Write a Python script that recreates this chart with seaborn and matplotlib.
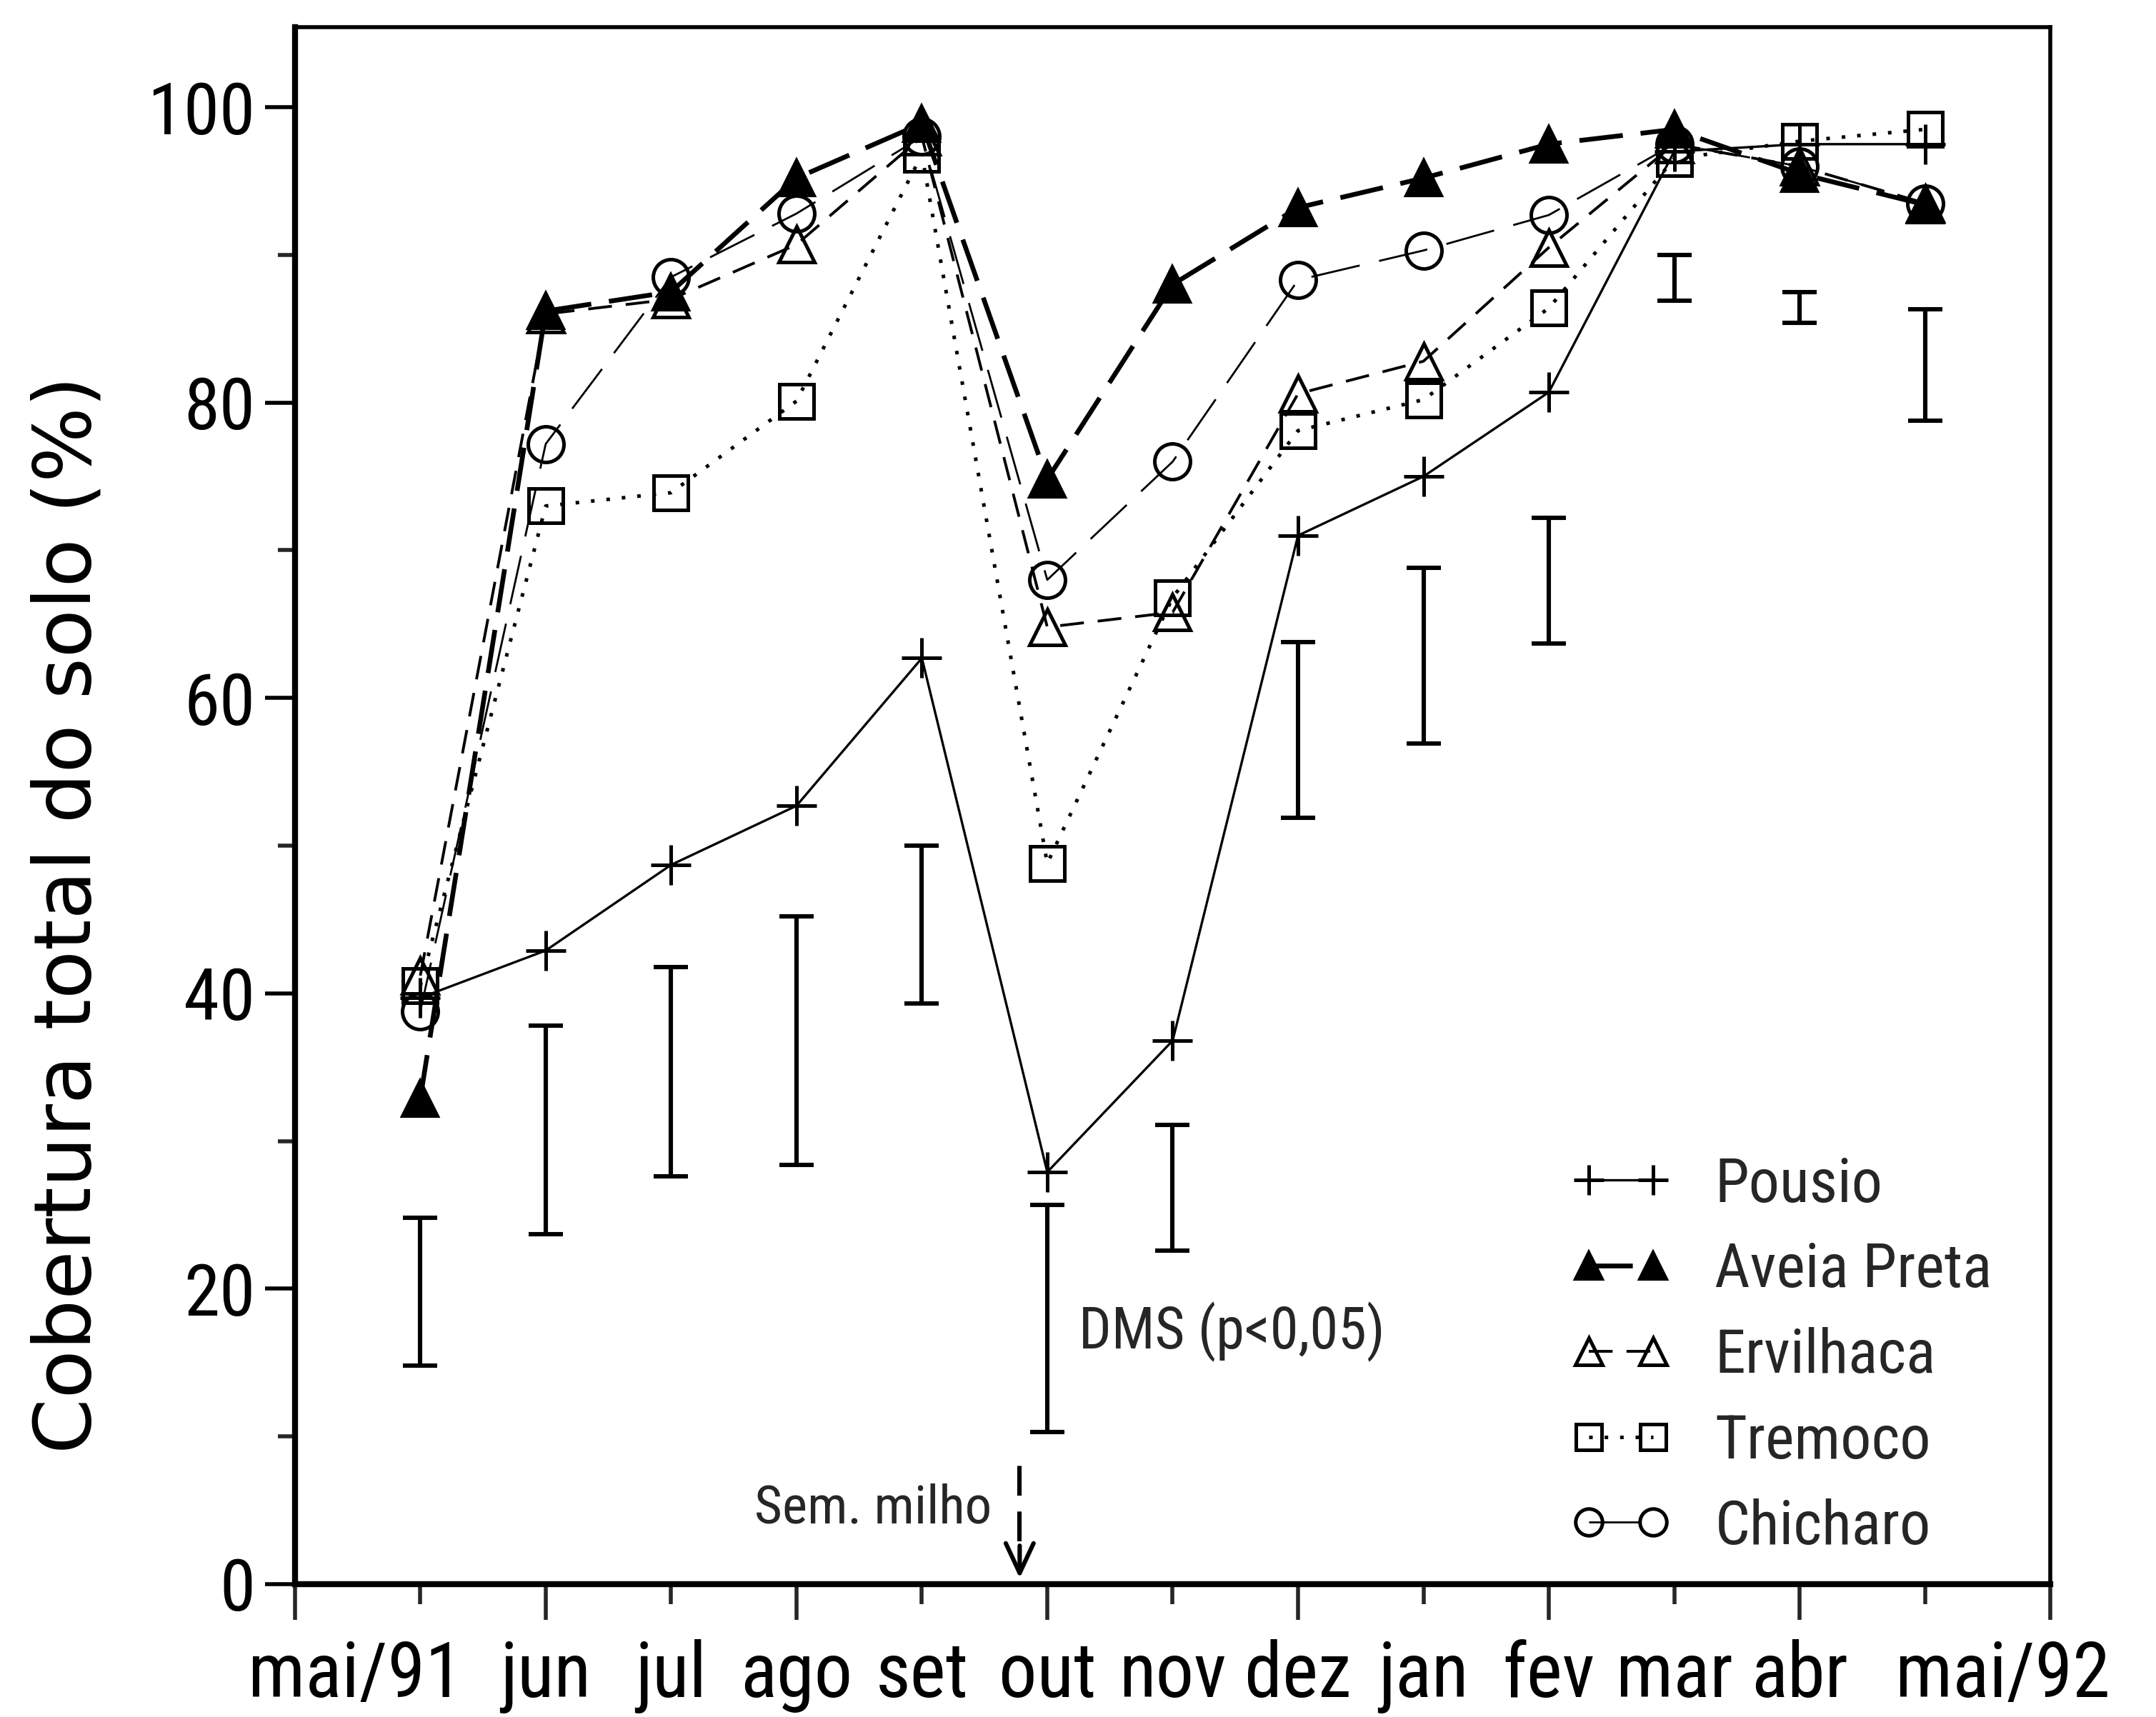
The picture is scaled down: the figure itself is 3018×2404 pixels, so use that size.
import numpy as np
import pandas as pd
import matplotlib
matplotlib.use('Agg')
import matplotlib.pyplot as plt
from matplotlib import font_manager
from matplotlib.ticker import FixedLocator, NullFormatter
import seaborn as sns

# ===== dados =====
meses = ['mai/91', 'jun', 'jul', 'ago', 'set', 'out', 'nov',
         'dez', 'jan', 'fev', 'mar', 'abr', 'mai/92']
pousio = [39.7, 42.9, 48.7, 52.7, 62.7, 27.9, 36.8, 71.0, 75.0, 80.7, 97.0, 97.5, 97.5]
aveia_preta = [32.9, 86.2, 87.5, 95.2, 98.9, 74.8, 88.0, 93.2, 95.2, 97.5, 98.5, 95.5, 93.4]
ervilhaca = [41.2, 86.0, 87.0, 90.7, 98.0, 64.8, 65.8, 80.6, 82.8, 90.5, 97.5, 96.0, 93.5]
tremoco = [40.5, 73.0, 73.9, 80.1, 96.8, 48.8, 66.8, 78.1, 80.2, 86.4, 96.5, 97.7, 98.5]
chicharo = [38.8, 77.2, 88.5, 92.8, 98.0, 68.0, 76.0, 88.3, 90.3, 92.7, 97.5, 96.0, 93.5]
# DMS (p<0,05): limites inferior e superior de cada barra
dms_inf = [14.8, 23.7, 27.6, 28.4, 39.3, 10.3, 22.6, 51.9, 56.9, 63.7, 86.9, 85.4, 78.8]
dms_sup = [24.8, 37.8, 41.8, 45.2, 50.0, 25.7, 31.1, 63.8, 68.8, 72.2, 90.0, 87.5, 86.3]

sns.set_style('ticks')

# fonte estreita (estilo plotter), se houver alguma instalada
fontes = font_manager.fontManager.ttflist
candidatas = [('Liberation Sans Narrow', 'normal'), ('Roboto Condensed', 'normal'),
              ('DejaVu Sans', 'condensed'), ('Liberation Sans', 'normal')]
familia, largura = 'DejaVu Sans', 'normal'
for nome, st in candidatas:
    if any(f.name == nome and (st == 'normal' or f.stretch == st) for f in fontes):
        familia, largura = nome, st
        break
plt.rcParams['font.family'] = [familia, 'DejaVu Sans']
plt.rcParams['font.stretch'] = largura
plt.rcParams['lines.scale_dashes'] = False

fig = plt.figure(figsize=(15.09, 12.02), dpi=200)
ax = fig.add_axes([0.1368, 0.0774, 0.951 - 0.1368, 0.984 - 0.0774])
renderer = fig.canvas.get_renderer()


def tamanho(texto, largura_px, maximo, **kw):
    # escolhe o corpo da fonte para o texto ocupar a largura medida na figura
    t = fig.text(0, 0, texto, fontsize=10, **kw)
    w = t.get_window_extent(renderer=renderer).width
    t.remove()
    return min(maximo, 10 * largura_px / w)


fs_mes = tamanho('mai/91', 300, 48)
fs_ytick = tamanho('100', 150, 37)
fs_leg = tamanho('Aveia Preta', 408, 31)
fs_dms = tamanho('DMS (p<0,05)', 431, 29)
fs_sem = tamanho('Sem. milho', 343, 27)
fs_ylab = tamanho('Cobertura total do solo (%)', 1580, 40, family='DejaVu Sans')

x = np.arange(len(meses))
df = pd.DataFrame({'mes': x, 'Pousio': pousio, 'Aveia Preta': aveia_preta,
                   'Ervilhaca': ervilhaca, 'Tremoco': tremoco, 'Chicharo': chicharo})

estilos = {
    'Pousio': dict(marker='+', ms=20, mew=1.8, lw=1.2, ls='-'),
    'Aveia Preta': dict(marker='^', ms=18, mew=1.5, mfc='black', lw=2.4, ls=(0, (22, 9))),
    'Ervilhaca': dict(marker='^', ms=18, mew=1.8, mfc='none', lw=1.4, ls=(0, (12, 7))),
    'Tremoco': dict(marker='s', ms=17, mew=1.8, mfc='none', lw=1.8, ls=(0, (1.8, 6))),
    'Chicharo': dict(marker='o', ms=18, mew=1.8, mfc='none', lw=1.0, ls=(0, (25, 10))),
}
for nome, kw in estilos.items():
    sns.lineplot(data=df, x='mes', y=nome, ax=ax, color='black', mec='black',
                 label=nome, **kw)

# barras DMS
dms_inf = np.array(dms_inf)
dms_sup = np.array(dms_sup)
ax.errorbar(x, (dms_inf + dms_sup) / 2, yerr=(dms_sup - dms_inf) / 2, fmt='none',
            ecolor='black', elinewidth=2.2, capsize=8.5, capthick=2.2)

# eixos
ax.set_xlim(-1, 13)
ax.set_ylim(0, 105.4)
ax.xaxis.set_major_locator(FixedLocator(np.arange(-1, 14, 2)))
ax.xaxis.set_minor_locator(FixedLocator(np.arange(0, 13, 2)))
ax.xaxis.set_major_formatter(NullFormatter())
ax.set_yticks(np.arange(0, 101, 20))
ax.yaxis.set_minor_locator(FixedLocator(np.arange(10, 100, 20)))
ax.tick_params(axis='x', which='major', length=18, width=2, direction='out')
ax.tick_params(axis='x', which='minor', length=10, width=2, direction='out')
ax.tick_params(axis='y', which='major', length=15, width=2, direction='out',
               labelsize=fs_ytick, pad=5, labelcolor='black', color='black')
ax.tick_params(axis='y', which='minor', length=8.5, width=2, direction='out')
ax.set_xlabel('')
for lado in ['left', 'bottom']:
    ax.spines[lado].set_linewidth(3)
for lado in ['top', 'right']:
    ax.spines[lado].set_linewidth(2)
for sp in ax.spines.values():
    sp.set_color('black')
ax.grid(False)

# rótulos dos meses
pos = x.astype(float)
pos[0] = -0.52
pos[-1] = 12.62
for p, m in zip(pos, meses):
    ax.annotate(m, xy=(p, 0), xycoords=('data', 'axes fraction'), xytext=(0, -57),
                textcoords='offset points', ha='center', va='baseline',
                fontsize=fs_mes, color='black')

ax.set_ylabel('Cobertura total do solo (%)', fontsize=fs_ylab, family='DejaVu Sans',
              color='black')
ax.yaxis.set_label_coords(-0.107, 0.43)

ax.text(5.25, 17.1, 'DMS (p<0,05)', fontsize=fs_dms, ha='left', va='center')
ax.text(4.56, 5.1, 'Sem. milho', fontsize=fs_sem, ha='right', va='center')
ax.plot([4.78, 4.78], [2.9, 8.3], color='black', lw=2.2, ls=(0, (15, 8)))
ax.annotate('', xy=(4.78, 0.4), xytext=(4.78, 2.6),
            arrowprops=dict(arrowstyle='->,head_length=1.5,head_width=0.7',
                            mutation_scale=10, color='black', lw=2.2,
                            shrinkA=0, shrinkB=0))

handles, labels = ax.get_legend_handles_labels()
ax.legend(handles, labels, loc='upper left', bbox_to_anchor=(0.7265, 0.275),
          frameon=False, fontsize=fs_leg, handlelength=1.65, handletextpad=0.7,
          labelspacing=0.45, borderpad=0, borderaxespad=0, numpoints=2,
          markerscale=0.75)

fig.savefig('out.png', dpi=200)
plt.close()
